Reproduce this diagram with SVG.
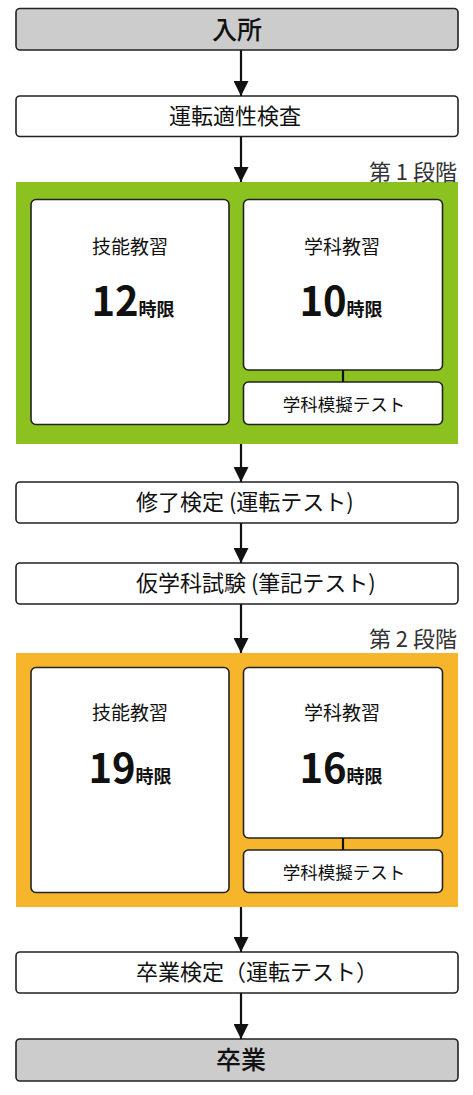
<svg xmlns="http://www.w3.org/2000/svg" width="473" height="1095" viewBox="0 0 473 1095">
<defs>
<style>
.t{font-family:"Noto Sans CJK JP","Noto Sans",sans-serif;fill:#111;}
.box{fill:#fff;stroke:#222;stroke-width:1.6;}
.gray{fill:#cccccc;stroke:#222;stroke-width:1.6;}
.inner{fill:#fff;stroke:#222;stroke-width:1.6;}
.conn{stroke:#111;stroke-width:2.2;fill:none;}
.big{font-size:25px;font-weight:500;}
.mid{font-size:22px;}
.lab{font-size:19px;}
.num{font-size:40px;font-weight:700;}
.unit{font-size:18px;font-weight:700;}
.small{font-size:17.5px;}
.phase{font-size:22px;fill:#333;}
</style>
<marker id="ah" markerWidth="15" markerHeight="15" refX="15" refY="7.5" orient="auto" markerUnits="userSpaceOnUse">
<path d="M0,0 L15,7.5 L0,15 Z" fill="#111"/>
</marker>
</defs>
<rect x="0" y="0" width="473" height="1095" fill="#fff"/>

<g id="start">
<rect class="gray" x="16" y="8.5" width="442" height="41.5" rx="4"/>
<text class="t big" x="237" y="39" text-anchor="middle">入所</text>
</g>

<g id="aptitude">
<rect class="box" x="16" y="96" width="442" height="40.5" rx="4"/>
<text class="t mid" x="235" y="124" text-anchor="middle">運転適性検査</text>
</g>

<g id="phase1">
<rect x="16" y="182" width="442" height="262" fill="#8cc220"/>
<text class="t phase" x="457" y="180" text-anchor="end">第 1 段階</text>
</g>
<g id="p1-skill">
<rect class="inner" x="31" y="199.5" width="198" height="225" rx="5"/>
<text class="t lab" x="130" y="254" text-anchor="middle">技能教習</text>
<text class="t" x="133" y="316" text-anchor="middle"><tspan class="num">12</tspan><tspan class="unit">時限</tspan></text>
</g>
<g id="p1-academic">
<rect class="inner" x="243.5" y="199.5" width="199" height="170.5" rx="5"/>
<text class="t lab" x="342" y="254" text-anchor="middle">学科教習</text>
<text class="t" x="341" y="316" text-anchor="middle"><tspan class="num">10</tspan><tspan class="unit">時限</tspan></text>
</g>
<g id="p1-mock">
<rect class="inner" x="243.5" y="382" width="199" height="42.5" rx="5"/>
<text class="t small" x="344" y="411" text-anchor="middle">学科模擬テスト</text>
</g>

<g id="completion">
<rect class="box" x="16" y="482" width="442" height="41" rx="4"/>
<text class="t mid" x="136" y="510">修了検定 (運転テスト)</text>
</g>

<g id="provisional">
<rect class="box" x="16" y="563" width="442" height="41" rx="4"/>
<text class="t mid" x="136" y="591">仮学科試験 (筆記テスト)</text>
</g>

<g id="phase2">
<rect x="16" y="653" width="442" height="254" fill="#f7b52c"/>
<text class="t phase" x="457" y="647" text-anchor="end">第 2 段階</text>
</g>
<g id="p2-skill">
<rect class="inner" x="31" y="667.5" width="198" height="225" rx="5"/>
<text class="t lab" x="130" y="720" text-anchor="middle">技能教習</text>
<text class="t" x="130" y="783" text-anchor="middle"><tspan class="num">19</tspan><tspan class="unit">時限</tspan></text>
</g>
<g id="p2-academic">
<rect class="inner" x="243.5" y="667.5" width="199" height="170.5" rx="5"/>
<text class="t lab" x="342" y="720" text-anchor="middle">学科教習</text>
<text class="t" x="341" y="783" text-anchor="middle"><tspan class="num">16</tspan><tspan class="unit">時限</tspan></text>
</g>
<g id="p2-mock">
<rect class="inner" x="243.5" y="850" width="199" height="42.5" rx="5"/>
<text class="t small" x="344" y="879" text-anchor="middle">学科模擬テスト</text>
</g>

<g id="graduation-test">
<rect class="box" x="16" y="952" width="442" height="41" rx="4"/>
<text class="t mid" x="136" y="980">卒業検定（運転テスト）</text>
</g>

<g id="graduation">
<rect class="gray" x="16" y="1039" width="442" height="42" rx="4"/>
<text class="t big" x="241" y="1069" text-anchor="middle">卒業</text>
</g>

<g id="connectors">
<line class="conn" x1="241" y1="50" x2="241" y2="96" marker-end="url(#ah)"/>
<line class="conn" x1="241" y1="136.5" x2="241" y2="182" marker-end="url(#ah)"/>
<line class="conn" x1="241" y1="444" x2="241" y2="482" marker-end="url(#ah)"/>
<line class="conn" x1="241" y1="523" x2="241" y2="563" marker-end="url(#ah)"/>
<line class="conn" x1="241" y1="604" x2="241" y2="653" marker-end="url(#ah)"/>
<line class="conn" x1="241" y1="907" x2="241" y2="952" marker-end="url(#ah)"/>
<line class="conn" x1="241" y1="993" x2="241" y2="1039" marker-end="url(#ah)"/>
<line class="conn" x1="343" y1="370" x2="343" y2="382" stroke-width="2.5"/>
<line class="conn" x1="343" y1="838" x2="343" y2="850" stroke-width="2.5"/>
</g>
</svg>
